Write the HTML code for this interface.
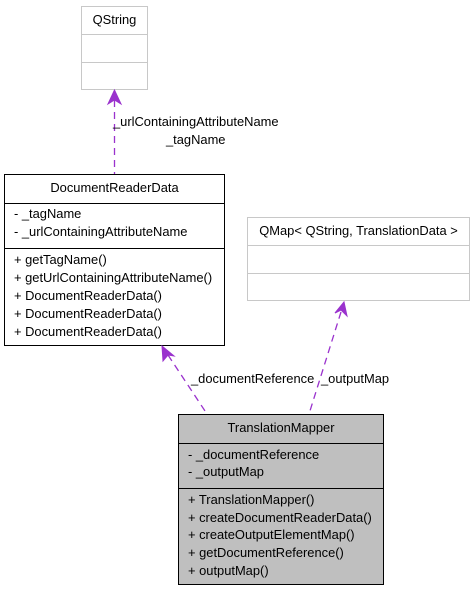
<!DOCTYPE html>
<html><head><style>body{margin:0;background:#fff}svg{display:block}text{font-family:"Liberation Sans",Arial,sans-serif;font-size:12.9px;fill:#000}</style></head>
<body>
<svg width="475" height="592" viewBox="0 0 475 592" xmlns="http://www.w3.org/2000/svg">
<rect x="81.5" y="6.5" width="66" height="83" fill="#fff" stroke="#c8c8c8"/>
<line x1="81" y1="34.5" x2="148" y2="34.5" stroke="#c8c8c8"/>
<line x1="81" y1="62.5" x2="148" y2="62.5" stroke="#c8c8c8"/>
<text x="114.5" y="24" text-anchor="middle">QString</text>
<rect x="247.5" y="217.5" width="222" height="83" fill="#fff" stroke="#c8c8c8"/>
<line x1="247" y1="245.5" x2="470" y2="245.5" stroke="#c8c8c8"/>
<line x1="247" y1="273.5" x2="470" y2="273.5" stroke="#c8c8c8"/>
<text x="358.5" y="235" text-anchor="middle">QMap&lt; QString, TranslationData &gt;</text>
<rect x="4.5" y="174.5" width="220" height="171" fill="#fff" stroke="#000"/>
<line x1="4" y1="203.5" x2="225" y2="203.5" stroke="#000"/>
<line x1="4" y1="248.5" x2="225" y2="248.5" stroke="#000"/>
<text x="114.5" y="192" text-anchor="middle">DocumentReaderData</text>
<text x="14" y="218">- _tagName</text>
<text x="14" y="236">- _urlContainingAttributeName</text>
<text x="14" y="264">+ getTagName()</text>
<text x="14" y="282">+ getUrlContainingAttributeName()</text>
<text x="14" y="300">+ DocumentReaderData()</text>
<text x="14" y="318">+ DocumentReaderData()</text>
<text x="14" y="336">+ DocumentReaderData()</text>
<rect x="178.5" y="414.5" width="205" height="170" fill="#bfbfbf" stroke="#000"/>
<line x1="178" y1="443.5" x2="384" y2="443.5" stroke="#000"/>
<line x1="178" y1="488.5" x2="384" y2="488.5" stroke="#000"/>
<text x="281" y="432" text-anchor="middle">TranslationMapper</text>
<text x="188" y="459">- _documentReference</text>
<text x="188" y="476">- _outputMap</text>
<text x="188" y="504">+ TranslationMapper()</text>
<text x="188" y="522">+ createDocumentReaderData()</text>
<text x="188" y="539">+ createOutputElementMap()</text>
<text x="188" y="557">+ getDocumentReference()</text>
<text x="188" y="575">+ outputMap()</text>
<g stroke="#9a32cd" stroke-width="1.3" stroke-dasharray="7,5" fill="none">
<line x1="114.5" y1="100" x2="114.5" y2="174"/>
<line x1="168" y1="355" x2="207" y2="414"/>
<line x1="341" y1="312" x2="309" y2="414"/>
</g>
<g fill="#9a32cd" stroke="#9a32cd">
<polygon points="114.5,90 108,104 114.5,100 121,104"/>
<polygon points="162,346 163,361 168,355 174,356"/>
<polygon points="344,302 335,313 341,310 347,316"/>
</g>
<text x="113" y="126">_urlContainingAttributeName</text>
<text x="166" y="144">_tagName</text>
<text x="191" y="383">_documentReference</text>
<text x="321" y="383">_outputMap</text>
</svg>
</body></html>
